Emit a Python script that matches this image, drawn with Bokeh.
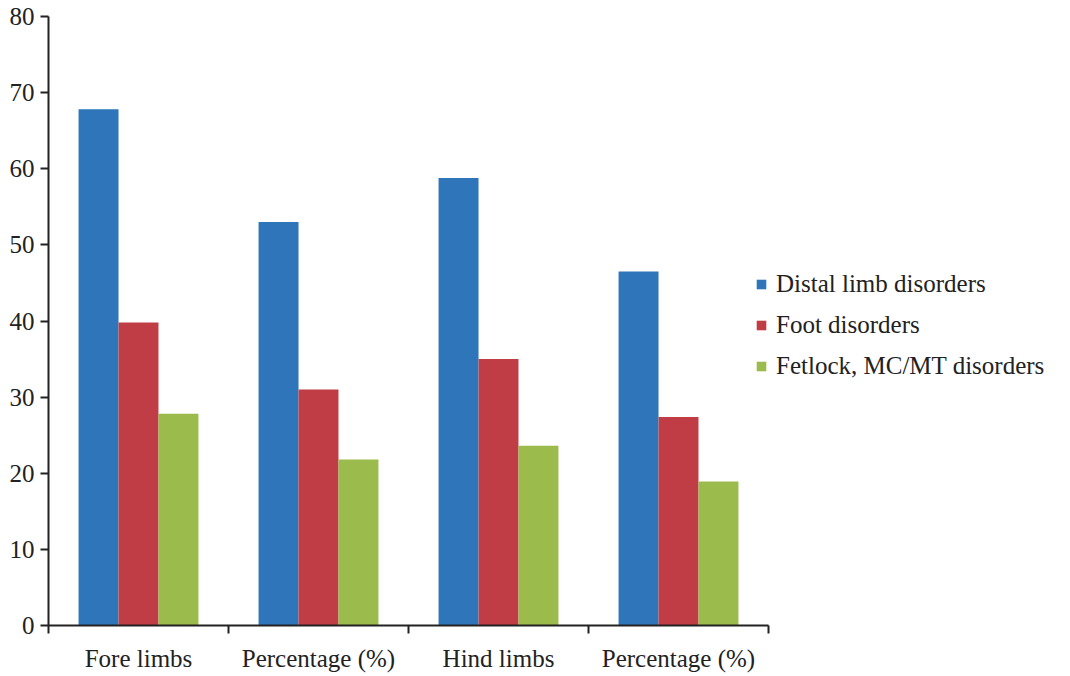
import numpy as np
from bokeh.plotting import figure
from bokeh.models import FixedTicker, ColumnDataSource
from bokeh.embed import file_html
from bokeh.resources import INLINE

categories = ["Fore limbs", "Percentage (%)", "Hind limbs", "Percentage (%)"]
distal = [67.8, 53.0, 58.8, 46.5]
foot = [39.8, 31.0, 35.0, 27.4]
fetlock = [27.8, 21.8, 23.6, 18.9]
series_names = ["Distal limb disorders", "Foot disorders", "Fetlock, MC/MT disorders"]
colors = ["#2E75BA", "#C13D45", "#9CBB4D"]

FONT = "Liberation Serif"
FS = "25px"

n = len(categories)
# frame spans 48..1068 px; the category axis occupies 48..768 px
x_end = n * (1068 - 48) / 720.0

p = figure(width=1070, height=676, x_range=(0, x_end), y_range=(0, 80),
           output_backend="svg", toolbar_location=None,
           min_border_left=48, min_border_right=2,
           min_border_top=16, min_border_bottom=51)
p.grid.visible = False
p.outline_line_color = None
p.background_fill_color = "white"

centers = np.arange(n) + 0.5
bw = 0.222
offsets = [-bw, 0.0, bw]
for vals, name, col, off in zip([distal, foot, fetlock], series_names, colors, offsets):
    src = ColumnDataSource(dict(x=centers + off, top=vals))
    p.vbar(x="x", top="top", width=bw, bottom=0, source=src, fill_color=col,
           line_color=None, legend_label=name)

# x axis
xa = p.xaxis[0]
xa.bounds = (0, n)
xa.ticker = FixedTicker(ticks=list(centers), minor_ticks=list(range(n + 1)))
xa.major_label_overrides = {float(c): lab for c, lab in zip(centers, categories)}
xa.major_tick_line_color = None
xa.minor_tick_in = 0
xa.minor_tick_out = 8
xa.minor_tick_line_width = 2
xa.minor_tick_line_color = "#222222"
xa.axis_line_width = 2
xa.axis_line_color = "#222222"
xa.major_label_text_font = FONT
xa.major_label_text_font_size = FS
xa.major_label_text_color = "#222222"
xa.major_label_standoff = 11

ya = p.yaxis[0]
ya.ticker = FixedTicker(ticks=list(range(0, 81, 10)))
ya.minor_tick_line_color = None
ya.major_tick_in = 0
ya.major_tick_out = 8
ya.major_tick_line_width = 2
ya.major_tick_line_color = "#222222"
ya.axis_line_width = 2
ya.axis_line_color = "#222222"
ya.major_label_text_font = FONT
ya.major_label_text_font_size = FS
ya.major_label_text_color = "#222222"
ya.major_label_standoff = 6

lg = p.legend[0]
lg.location = (707, 244)
lg.padding = 0
lg.margin = 0
lg.border_line_color = None
lg.background_fill_alpha = 0
lg.glyph_width = 12
lg.glyph_height = 12
lg.label_height = 30
lg.spacing = 11
lg.label_standoff = 9
lg.label_text_font = FONT
lg.label_text_font_size = FS
lg.label_text_color = "#222222"

open("out.html", "w").write(file_html(p, INLINE))
